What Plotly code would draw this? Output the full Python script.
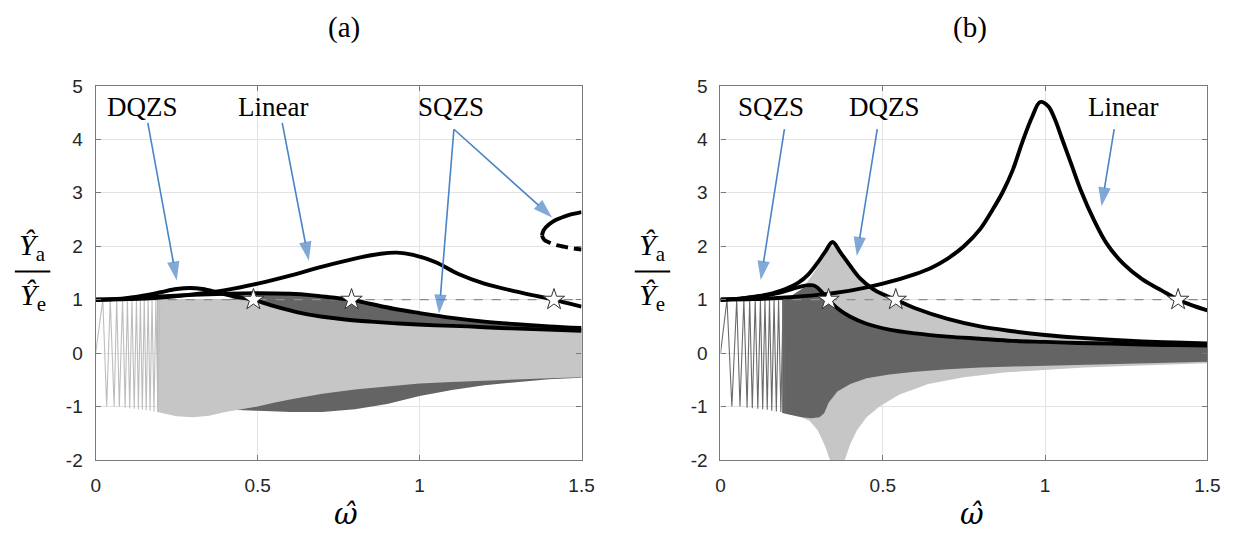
import plotly.graph_objects as go

# ---------------- panel (a) ----------------
# response curves
a_lin_w = [0, 0.1, 0.2, 0.3, 0.4, 0.5, 0.6, 0.7, 0.8, 0.88, 0.93, 0.98, 1.05, 1.12, 1.2, 1.3, 1.36, 1.415, 1.46, 1.5]
a_lin_y = [1.0, 1.01, 1.04, 1.1, 1.18, 1.3, 1.45, 1.62, 1.77, 1.86, 1.88, 1.84, 1.7, 1.48, 1.3, 1.15, 1.07, 1.0, 0.93, 0.87]

a_dq_w = [0, 0.08, 0.15, 0.2, 0.25, 0.29, 0.33, 0.38, 0.43, 0.487, 0.54, 0.6, 0.65, 0.7, 0.77, 0.85, 0.95, 1.05, 1.15, 1.25, 1.35, 1.5]
a_dq_y = [1.0, 1.02, 1.08, 1.14, 1.2, 1.22, 1.2, 1.13, 1.06, 1.0, 0.9, 0.8, 0.73, 0.68, 0.63, 0.59, 0.55, 0.52, 0.5, 0.47, 0.45, 0.42]

a_sq_w = [0, 0.1, 0.2, 0.3, 0.4, 0.5, 0.6, 0.67, 0.73, 0.79, 0.85, 0.92, 1.0, 1.1, 1.2, 1.3, 1.4, 1.5]
a_sq_y = [1.0, 1.02, 1.06, 1.09, 1.11, 1.12, 1.11, 1.08, 1.04, 1.0, 0.92, 0.83, 0.75, 0.66, 0.59, 0.54, 0.5, 0.47]

# SQZS upper (stable, solid) and lower (unstable, dashed) branches
a_loop_up_w = [1.378, 1.383, 1.40, 1.42, 1.444, 1.47, 1.5]
a_loop_up_y = [2.2, 2.3, 2.41, 2.49, 2.55, 2.6, 2.64]
a_loop_dn_w = [1.378, 1.385, 1.40, 1.418, 1.44, 1.464, 1.5]
a_loop_dn_y = [2.2, 2.12, 2.07, 2.03, 2.0, 1.97, 1.94]

# time-response envelopes (SQZS: dark, DQZS: light)
a_dark_top_w = [0.19, 0.3, 0.4, 0.45, 0.5, 0.6, 0.67, 0.73, 0.79, 0.85, 0.92, 1.0, 1.1, 1.2, 1.3, 1.4, 1.5]
a_dark_top_y = [1.0, 1.0, 1.0, 1.05, 1.1, 1.11, 1.08, 1.04, 1.0, 0.92, 0.83, 0.75, 0.66, 0.59, 0.54, 0.5, 0.47]
a_dark_bot_w = [0.19, 0.3, 0.4, 0.5, 0.6, 0.7, 0.8, 0.9, 1.0, 1.1, 1.2, 1.3, 1.4, 1.5]
a_dark_bot_y = [-1.0, -1.02, -1.05, -1.08, -1.1, -1.1, -1.05, -0.95, -0.8, -0.69, -0.6, -0.54, -0.49, -0.46]

a_light_top_w = [0.19, 0.3, 0.4, 0.487, 0.54, 0.6, 0.65, 0.7, 0.77, 0.85, 0.95, 1.05, 1.15, 1.25, 1.35, 1.5]
a_light_top_y = [1.0, 1.0, 1.0, 1.0, 0.9, 0.8, 0.73, 0.68, 0.63, 0.59, 0.55, 0.52, 0.5, 0.47, 0.45, 0.42]
a_light_bot_w = [0.19, 0.25, 0.3, 0.35, 0.4, 0.45, 0.5, 0.55, 0.6, 0.65, 0.7, 0.8, 0.9, 1.0, 1.1, 1.2, 1.3, 1.4, 1.5]
a_light_bot_y = [-1.1, -1.18, -1.2, -1.17, -1.1, -1.05, -1.0, -0.93, -0.87, -0.81, -0.76, -0.68, -0.62, -0.57, -0.54, -0.51, -0.49, -0.47, -0.45]

# start-up sweep strokes
a_sweep_w = [0, 0.022, 0.034, 0.045, 0.057, 0.065, 0.073, 0.083, 0.091, 0.098, 0.105, 0.112, 0.119,
             0.126, 0.132, 0.138, 0.144, 0.15, 0.156, 0.162, 0.168, 0.174, 0.18, 0.186, 0.192, 0.198]
a_sweep_y = [0, 1, -1, 1, -1, 1, -1.01, 1, -1.02, 1, -1.03, 1, -1.04,
             1, -1.05, 1, -1.06, 1, -1.07, 1, -1.08, 1, -1.09, 1, -1.1, 1]

a_star_w = [0.487, 0.79, 1.415]

# ---------------- panel (b) ----------------
b_lin_w = [0, 0.1, 0.2, 0.3, 0.4, 0.5, 0.6, 0.65, 0.7, 0.75, 0.8, 0.84, 0.87, 0.9, 0.93, 0.96, 0.985,
           1.01, 1.03, 1.05, 1.08, 1.11, 1.15, 1.19, 1.24, 1.3, 1.36, 1.41, 1.46, 1.5]
b_lin_y = [1.0, 1.01, 1.04, 1.09, 1.17, 1.3, 1.48, 1.6, 1.77, 2.0, 2.32, 2.7, 3.02, 3.42, 3.95, 4.42, 4.7,
           4.62, 4.38, 4.05, 3.55, 3.05, 2.5, 2.05, 1.68, 1.38, 1.17, 1.0, 0.88, 0.8]

b_dq_w = [0, 0.06, 0.12, 0.16, 0.2, 0.24, 0.27, 0.3, 0.325, 0.345, 0.37, 0.4, 0.43, 0.47, 0.5, 0.54,
          0.6, 0.7, 0.8, 0.9, 1.0, 1.1, 1.2, 1.3, 1.4, 1.5]
b_dq_y = [1.0, 1.02, 1.07, 1.12, 1.2, 1.32, 1.47, 1.7, 1.92, 2.08, 1.88, 1.63, 1.4, 1.2, 1.1, 1.0,
          0.84, 0.64, 0.5, 0.41, 0.34, 0.29, 0.25, 0.22, 0.2, 0.18]

b_sq_w = [0, 0.06, 0.12, 0.18, 0.22, 0.25, 0.27, 0.285, 0.3, 0.315, 0.333, 0.36, 0.4, 0.45, 0.52,
          0.6, 0.7, 0.8, 0.9, 1.0, 1.1, 1.2, 1.3, 1.4, 1.5]
b_sq_y = [1.0, 1.02, 1.06, 1.13, 1.2, 1.25, 1.27, 1.27, 1.22, 1.12, 1.0, 0.84, 0.68, 0.55, 0.44,
          0.37, 0.31, 0.27, 0.23, 0.21, 0.19, 0.18, 0.16, 0.15, 0.14]

b_light_top_w = [0.2, 0.24, 0.27, 0.3, 0.325, 0.345, 0.37, 0.4, 0.43, 0.47, 0.5, 0.54, 0.6, 0.7,
                 0.8, 0.9, 1.0, 1.1, 1.2, 1.3, 1.4, 1.5]
b_light_top_y = [1.0, 1.1, 1.35, 1.62, 1.88, 2.05, 1.86, 1.62, 1.4, 1.2, 1.1, 1.0, 0.84, 0.64,
                 0.5, 0.41, 0.34, 0.29, 0.25, 0.22, 0.2, 0.18]
b_light_bot_w = [0.2, 0.25, 0.275, 0.3, 0.323, 0.34, 0.38, 0.4, 0.42, 0.45, 0.49, 0.55, 0.64, 0.75,
                 0.88, 1.0, 1.12, 1.25, 1.38, 1.5]
b_light_bot_y = [-1.13, -1.2, -1.27, -1.45, -1.75, -2.05, -2.05, -1.7, -1.45, -1.2, -1.0, -0.78,
                 -0.58, -0.45, -0.36, -0.31, -0.27, -0.24, -0.21, -0.19]

b_dark_top_w = [0.19, 0.2, 0.23, 0.255, 0.28, 0.3, 0.32, 0.333, 0.36, 0.4, 0.45, 0.52, 0.6, 0.7,
                0.8, 0.9, 1.0, 1.1, 1.2, 1.3, 1.4, 1.5]
b_dark_top_y = [1.0, 1.0, 1.12, 1.22, 1.24, 1.18, 1.06, 1.0, 0.84, 0.68, 0.55, 0.44, 0.37, 0.31,
                0.27, 0.23, 0.21, 0.19, 0.18, 0.16, 0.15, 0.14]
b_dark_bot_w = [0.19, 0.25, 0.28, 0.305, 0.32, 0.333, 0.36, 0.4, 0.45, 0.52, 0.6, 0.7, 0.8, 0.9,
                1.0, 1.2, 1.35, 1.5]
b_dark_bot_y = [-1.12, -1.2, -1.22, -1.2, -1.12, -0.93, -0.72, -0.58, -0.47, -0.4, -0.35, -0.3,
                -0.27, -0.25, -0.23, -0.2, -0.18, -0.16]

b_sweep_w = [0, 0.02, 0.035, 0.05, 0.06, 0.072, 0.082, 0.09, 0.098, 0.107, 0.115, 0.123,
             0.13, 0.137, 0.144, 0.151, 0.158, 0.165, 0.172, 0.179, 0.186, 0.193, 0.2]
b_sweep_y = [0, 1, -1, 1, -1, 1, -1.02, 1, -1.03, 1, -1.04, 1,
             -1.05, 1, -1.06, 1, -1.08, 1, -1.09, 1, -1.1, 1, -1.12]

b_star_w = [0.333, 0.54, 1.41]

# ---------------- labels ----------------
x_ticks = [0, 0.5, 1, 1.5]
x_ticktext = ["0", "0.5", "1", "1.5"]
y_ticks = [-2, -1, 0, 1, 2, 3, 4, 5]
y_ticktext = ["-2", "-1", "0", "1", "2", "3", "4", "5"]

W, H = 1244, 546
DARK = "#646464"
LIGHT = "#c6c6c6"
BLUE = "#4a84c6"

fig = go.Figure()


def band(xa, ya, top_w, top_y, bot_w, bot_y, color):
    fig.add_trace(go.Scatter(
        x=list(top_w) + list(bot_w)[::-1], y=list(top_y) + list(bot_y)[::-1],
        mode="lines", fill="toself", fillcolor=color, line=dict(width=0, color=color),
        xaxis=xa, yaxis=ya, hoverinfo="skip", showlegend=False))


def line(xa, ya, w, y, color="black", width=3.9, dash=None, shape="spline"):
    fig.add_trace(go.Scatter(
        x=w, y=y, mode="lines", line=dict(color=color, width=width, dash=dash, shape=shape),
        xaxis=xa, yaxis=ya, hoverinfo="skip", showlegend=False))


def stars(xa, ya, w):
    fig.add_trace(go.Scatter(
        x=w, y=[1] * len(w), mode="markers",
        marker=dict(symbol="star", size=16, color="white", line=dict(color="#333333", width=1)),
        xaxis=xa, yaxis=ya, hoverinfo="skip", showlegend=False))


def arrow(xa, ya, tail, head):
    # shaft plus an arrow-shaped marker aligned with the shaft
    fig.add_trace(go.Scatter(
        x=[tail[0], head[0]], y=[tail[1], head[1]], mode="lines+markers",
        line=dict(color=BLUE, width=1.6),
        marker=dict(symbol="arrow", size=[0, 20], angleref="previous", color=BLUE,
                    line=dict(width=0)),
        xaxis=xa, yaxis=ya, hoverinfo="skip", showlegend=False, cliponaxis=False))


# panel (a): SQZS response behind, DQZS response on top
band("x", "y", a_dark_top_w, a_dark_top_y, a_dark_bot_w, a_dark_bot_y, DARK)
band("x", "y", a_light_top_w, a_light_top_y, a_light_bot_w, a_light_bot_y, LIGHT)
line("x", "y", a_sweep_w, a_sweep_y, color="#bdbdbd", width=1.1, shape="linear")
line("x", "y", [0, 1.5], [1, 1], color="#8c8c8c", width=1.2, dash="dash", shape="linear")
line("x", "y", a_lin_w, a_lin_y)
line("x", "y", a_dq_w, a_dq_y)
line("x", "y", a_sq_w, a_sq_y)
line("x", "y", a_loop_up_w, a_loop_up_y)
line("x", "y", a_loop_dn_w, a_loop_dn_y, dash="12px,6px")
stars("x", "y", a_star_w)
arrow("x", "y", (0.161, 4.31), (0.25, 1.36))
arrow("x", "y", (0.576, 4.31), (0.658, 1.73))
arrow("x", "y", (1.106, 4.19), (1.06, 0.74))
arrow("x", "y", (1.106, 4.19), (1.409, 2.54))

# panel (b): DQZS response behind, SQZS response on top
band("x2", "y2", b_light_top_w, b_light_top_y, b_light_bot_w, b_light_bot_y, LIGHT)
band("x2", "y2", b_dark_top_w, b_dark_top_y, b_dark_bot_w, b_dark_bot_y, DARK)
line("x2", "y2", b_sweep_w, b_sweep_y, color="#6a6a6a", width=1.1, shape="linear")
line("x2", "y2", [0, 1.5], [1, 1], color="#8c8c8c", width=1.2, dash="dash", shape="linear")
line("x2", "y2", b_lin_w, b_lin_y)
line("x2", "y2", b_dq_w, b_dq_y)
line("x2", "y2", b_sq_w, b_sq_y)
stars("x2", "y2", b_star_w)
arrow("x2", "y2", (0.197, 4.19), (0.124, 1.37))
arrow("x2", "y2", (0.483, 4.19), (0.42, 1.82))
arrow("x2", "y2", (1.213, 4.19), (1.174, 2.75))

frame = dict(showline=True, linecolor="#7a7a7a", linewidth=1.3, mirror="ticks",
             ticks="inside", ticklen=5, tickcolor="#7a7a7a", tickwidth=1,
             showgrid=True, gridcolor="#e3e3e3", gridwidth=1, zeroline=False,
             tickfont=dict(family="Liberation Sans, Arial, sans-serif", size=19, color="#262626"))
xdef = dict(frame, range=[0, 1.5], tickvals=x_ticks, ticktext=x_ticktext, ticklabelstandoff=8)
ydef = dict(frame, range=[-2, 5], tickvals=y_ticks, ticktext=y_ticktext, ticklabelstandoff=8)

ydom = [1 - 468 / H, 1 - 79 / H]
fig.update_layout(
    width=W, height=H, autosize=False,
    margin=dict(l=0, r=0, t=0, b=0),
    paper_bgcolor="white", plot_bgcolor="white",
    xaxis=dict(xdef, domain=[92 / W, 585 / W], anchor="y"),
    yaxis=dict(ydef, domain=ydom, anchor="x"),
    xaxis2=dict(xdef, domain=[726 / W, 1220 / W], anchor="y2"),
    yaxis2=dict(ydef, domain=ydom, anchor="x2"),
)

serif = "Liberation Serif, Times New Roman, serif"
ann = []


def label(xr, yr, x, y, text, size=27):
    ann.append(dict(xref=xr, yref=yr, x=x, y=y, text=text, showarrow=False,
                    xanchor="center", yanchor="middle",
                    font=dict(family=serif, size=size, color="black")))


# series labels
label("x", "y", 0.146, 4.6, "DQZS")
label("x", "y", 0.548, 4.6, "Linear")
label("x", "y", 1.097, 4.6, "SQZS")
label("x2", "y2", 0.156, 4.6, "SQZS")
label("x2", "y2", 0.506, 4.6, "DQZS")
label("x2", "y2", 1.24, 4.6, "Linear")

# panel titles and axis titles
for cx, txt in ((344, "(a)"), (979, "(b)")):
    label("paper", "paper", cx / W, 1 - 18 / H, txt, size=29)
for cx in (346, 981):
    ann.append(dict(xref="paper", yref="paper", x=cx / W, y=1 - 524 / H,
                    text="<i>\u03c9\u0302</i>", showarrow=False, xanchor="center", yanchor="middle",
                    font=dict(family="DejaVu Serif, serif", size=29, color="black")))

shapes = []
for cx in (28, 657):
    label("paper", "paper", cx / W, 1 - 247 / H, "<i>\u0176</i><sub>a</sub>", size=30)
    label("paper", "paper", cx / W, 1 - 298 / H, "<i>\u0176</i><sub>e</sub>", size=30)
    shapes.append(dict(type="line", xref="paper", yref="paper",
                       x0=(cx - 18) / W, x1=(cx + 18) / W, y0=1 - 272 / H, y1=1 - 272 / H,
                       line=dict(color="black", width=2)))

fig.update_layout(annotations=ann, shapes=shapes)
fig.write_html("out.html")
